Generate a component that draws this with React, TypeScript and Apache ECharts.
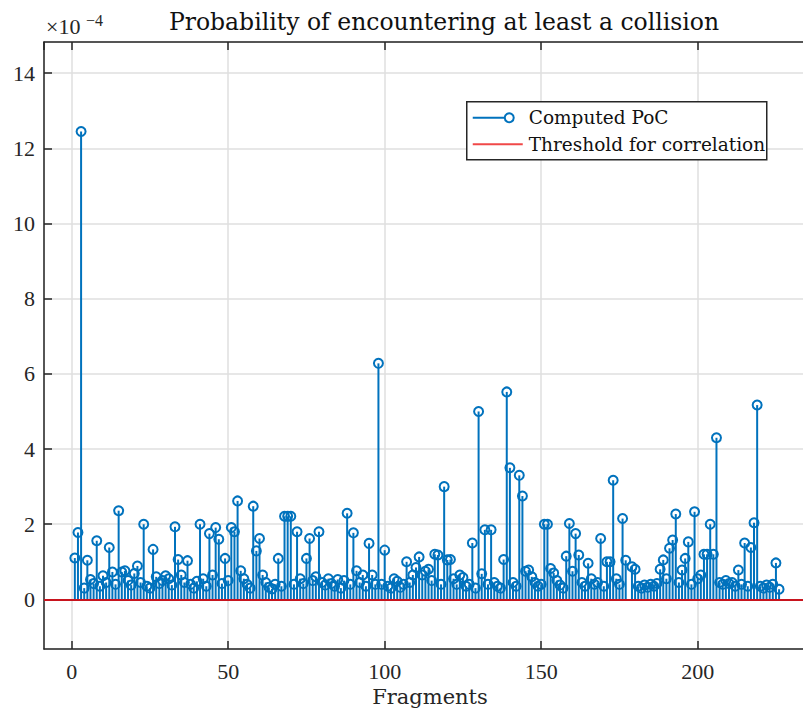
import React, { useEffect, useRef } from "react";
import * as echarts from "echarts";

// Probability of collision per fragment, in units of 1e-4 (fragment n = index + 1).
// A null entry marks a fragment with no computed value.
const POC_E4: (number | null)[] = [
  1.10, 1.78, 12.45, 0.30, 1.04, 0.53, 0.42, 1.56, 0.35, 0.63,
  0.45, 1.38, 0.73, 0.40, 2.36, 0.73, 0.76, 0.50, 0.38, 0.69,
  0.89, 0.45, 2.00, 0.35, 0.30, 1.33, 0.60, 0.42, 0.50, 0.63,
  0.55, 0.38, 1.93, 1.06, 0.65, 0.45, 1.03, 0.40, 0.30, 0.48,
  2.00, 0.55, 0.35, 1.75, 0.65, 1.91, 1.60, 0.42, 1.09, 0.50,
  1.91, 1.80, 2.62, 0.76, 0.55, 0.40, 0.30, 2.48, 1.29, 1.62,
  0.65, 0.45, 0.32, 0.28, 0.40, 1.09, 0.35, 2.21, 2.21, 2.21,
  0.40, 1.80, 0.55, 0.42, 1.09, 1.62, 0.50, 0.60, 1.80, 0.45,
  0.38, 0.55, 0.42, 0.35, 0.53, 0.30, 0.50, 2.29, 0.40, 1.77,
  0.76, 0.45, 0.65, 0.35, 1.49, 0.65, 0.40, 6.28, 0.40, 1.31,
  0.35, 0.30, 0.55, 0.48, 0.32, 0.40, 1.00, 0.45, 0.65, 0.85,
  1.13, 0.65, 0.75, 0.80, 0.50, 1.20, 1.18, 0.40, 3.00, 1.05,
  1.06, 0.55, 0.40, 0.65, 0.58, 0.35, 0.40, 1.50, 0.30, 5.00,
  0.68, 1.85, 0.40, 1.85, 0.45, 0.35, 0.30, 1.06, 5.52, 3.50,
  0.45, 0.35, 3.30, 2.75, 0.75, 0.78, 0.60, 0.45, 0.35, 0.40,
  2.00, 2.00, 0.82, 0.70, 0.50, 0.38, 0.30, 1.15, 2.02, 0.75,
  1.75, 1.18, 0.45, 0.35, 0.96, 0.55, 0.40, 0.45, 1.62, 0.35,
  1.00, 1.00, 3.17, 0.55, 0.40, 2.15, 1.04, null, 0.87, 0.80,
  0.35, 0.30, 0.38, 0.32, 0.40, 0.35, 0.42, 0.80, 1.05, 0.55,
  1.36, 1.58, 2.27, 0.45, 0.78, 1.09, 1.53, 0.40, 2.33, 0.55,
  0.65, 1.20, 1.20, 2.00, 1.20, 4.30, 0.45, 0.40, 0.50, 0.42,
  0.45, 0.35, 0.78, 0.40, 1.50, 0.35, 1.38, 2.04, 5.17, 0.35,
  0.30, 0.38, 0.32, 0.40, 0.97, 0.27,
];

// Correlation threshold, same 1e-4 units.
const THRESHOLD_E4 = 0;

const X_LIMITS = [-8.85, 237.8];
const Y_LIMITS = [-1.32, 14.83];

const SERIES_NAMES = ["Computed PoC", "Threshold for correlation"];
const TITLE = "Probability of encountering at least a collision";
const X_LABEL = "Fragments";

const BLUE = "#0072BD";
const RED = "#C8141E";
const LEGEND_RED = "#F04848";
const AXIS = "#262626";
const GRID = "#dfdfdf";
const NUM_FONT = "Liberation Serif";
const WORD_FONT = "DejaVu Serif";

export default function App() {
  const ref = useRef<HTMLDivElement>(null);

  useEffect(() => {
    if (!ref.current) return;
    const chart = echarts.init(ref.current, null, { renderer: "svg" });

    const points = POC_E4.map((v, i) => [i + 1, v == null ? NaN : v]);

    const axisCommon = {
      type: "value" as const,
      axisLine: { show: true, onZero: false, lineStyle: { color: AXIS, width: 1.5 } },
      axisTick: { show: true, inside: true, length: 8, lineStyle: { color: AXIS, width: 1.5 } },
    };

    const option: any = {
      animation: false,
      backgroundColor: "#ffffff",
      title: {
        text: TITLE,
        left: 439,
        top: 5,
        textAlign: "center",
        textStyle: { fontFamily: WORD_FONT, fontSize: 23.5, fontWeight: "normal", color: "#111" },
      },
      grid: { left: 44, top: 42, right: -13, bottom: 65, outerBoundsMode: "none", containLabel: false },
      xAxis: [
        {
          ...axisCommon,
          position: "bottom",
          min: X_LIMITS[0],
          max: X_LIMITS[1],
          splitNumber: 5,
          axisLabel: {
            show: true,
            showMinLabel: false,
            showMaxLabel: false,
            margin: 11,
            color: AXIS,
            fontFamily: NUM_FONT,
            fontSize: 22,
          },
          splitLine: { show: true, lineStyle: { color: GRID, width: 1.5 } },
          name: X_LABEL,
          nameLocation: "middle",
          nameGap: 35,
          nameTextStyle: { fontFamily: WORD_FONT, fontSize: 21, color: AXIS },
        },
        {
          ...axisCommon,
          position: "top",
          min: X_LIMITS[0],
          max: X_LIMITS[1],
          splitNumber: 5,
          axisLabel: { show: false },
          splitLine: { show: false },
        },
      ],
      yAxis: [
        {
          ...axisCommon,
          position: "left",
          min: Y_LIMITS[0],
          max: Y_LIMITS[1],
          splitNumber: 8,
          minInterval: 2,
          maxInterval: 2,
          axisLabel: {
            show: true,
            showMinLabel: false,
            showMaxLabel: false,
            margin: 9,
            color: AXIS,
            fontFamily: NUM_FONT,
            fontSize: 22,
          },
          splitLine: { show: true, lineStyle: { color: GRID, width: 1.5 } },
        },
      ],
      series: [
        {
          // stems
          name: SERIES_NAMES[0],
          type: "custom",
          xAxisIndex: 0,
          yAxisIndex: 0,
          z: 2,
          encode: { x: 0, y: 1 },
          data: points,
          renderItem: (_p: any, api: any) => {
            const v = api.value(1);
            if (v == null || isNaN(v)) return null;
            const x = api.value(0);
            const b = api.coord([x, 0]);
            const t = api.coord([x, v]);
            return {
              type: "line",
              shape: { x1: b[0], y1: b[1], x2: t[0], y2: t[1] },
              style: { stroke: BLUE, lineWidth: 2 },
            };
          },
        },
        {
          // open circle markers at the stem tips
          name: SERIES_NAMES[0],
          type: "custom",
          xAxisIndex: 0,
          yAxisIndex: 0,
          z: 3,
          encode: { x: 0, y: 1 },
          data: points,
          renderItem: (_p: any, api: any) => {
            const v = api.value(1);
            if (v == null || isNaN(v)) return null;
            const t = api.coord([api.value(0), v]);
            return {
              type: "circle",
              shape: { cx: t[0], cy: t[1], r: 4.5 },
              style: { fill: "none", stroke: BLUE, lineWidth: 2 },
            };
          },
        },
        {
          name: SERIES_NAMES[1],
          type: "line",
          xAxisIndex: 0,
          yAxisIndex: 0,
          z: 5,
          data: [],
          markLine: {
            silent: true,
            symbol: ["none", "none"],
            label: { show: false },
            lineStyle: { color: RED, width: 2, type: "solid" },
            data: [{ yAxis: THRESHOLD_E4 }],
          },
        },
      ],
      graphic: [
        // exponent of the y axis
        {
          type: "text",
          left: 46,
          top: 15,
          z: 100,
          style: { text: "×10", fontFamily: NUM_FONT, fontSize: 22, fill: AXIS },
        },
        {
          type: "text",
          left: 86,
          top: 12,
          z: 100,
          style: { text: "−4", fontFamily: NUM_FONT, fontSize: 16, fill: AXIS },
        },
        // legend
        {
          type: "group",
          left: 466,
          top: 101,
          z: 100,
          children: [
            {
              type: "rect",
              z: 100,
              shape: { x: 0, y: 0, width: 300, height: 58 },
              style: { fill: "#ffffff", stroke: AXIS, lineWidth: 1.5 },
            },
            {
              type: "line",
              z: 101,
              shape: { x1: 6, y1: 16, x2: 38, y2: 16 },
              style: { stroke: BLUE, lineWidth: 2 },
            },
            {
              type: "circle",
              z: 101,
              shape: { cx: 42.5, cy: 16, r: 4.5 },
              style: { fill: "#ffffff", stroke: BLUE, lineWidth: 2 },
            },
            {
              type: "text",
              z: 101,
              x: 62,
              y: 16,
              style: {
                text: SERIES_NAMES[0],
                fontFamily: WORD_FONT,
                fontSize: 18.5,
                fill: "#111",
                verticalAlign: "middle",
              },
            },
            {
              type: "line",
              z: 101,
              shape: { x1: 6, y1: 42.5, x2: 56, y2: 42.5 },
              style: { stroke: LEGEND_RED, lineWidth: 2 },
            },
            {
              type: "text",
              z: 101,
              x: 62,
              y: 42.5,
              style: {
                text: SERIES_NAMES[1],
                fontFamily: WORD_FONT,
                fontSize: 18.5,
                fill: "#111",
                verticalAlign: "middle",
              },
            },
          ],
        },
      ],
    };

    chart.setOption(option);
    return () => chart.dispose();
  }, []);

  return (
    <div
      ref={ref}
      style={{ position: "fixed", left: 0, top: 0, width: 803, height: 714, background: "#fff" }}
    />
  );
}
